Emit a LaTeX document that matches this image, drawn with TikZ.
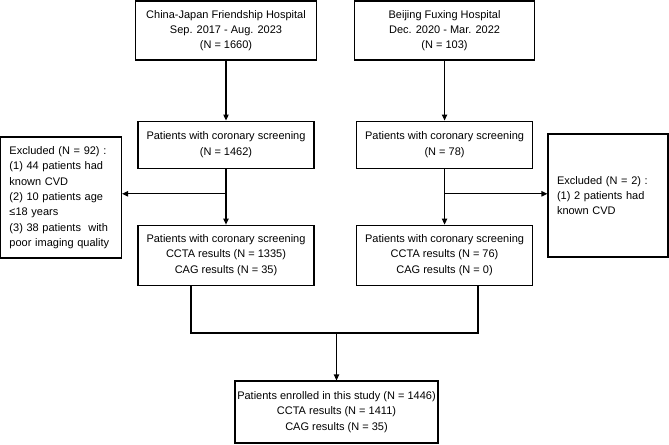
\documentclass[tikz,border=0pt]{standalone}
\usepackage{fontspec}
\setmainfont{Liberation Sans}
\usepackage{tikz}
\usetikzlibrary{arrows.meta,positioning,calc}

\begin{document}
\begin{tikzpicture}[
    x=0.75pt, y=-0.75pt,
    box/.style={
        draw,
        line width=0.8pt,
        inner sep=0pt,
        minimum width=132pt,
        minimum height=45pt,
        align=center,
        font=\fontsize{8.25}{11.5}\selectfont
    },
    exbox/.style={
        box,
        minimum width=0pt,
        align=left,
        inner xsep=6.75pt,
        text width=76.5pt
    },
    arrow/.style={-{Triangle[length=4.5pt,width=4pt]}, line width=0.8pt},
    line/.style={line width=0.8pt}
]
\useasboundingbox (0,0) rectangle (669,444);

\node[box, minimum width=135.75pt, minimum height=44.25pt] (cjfh) at (226,30.5) {China-Japan Friendship Hospital\\Sep. 2017 - Aug. 2023\\(N = 1660)};
\node[box, minimum width=135pt, minimum height=44.25pt, right=27.75pt of cjfh] (bjfx) {Beijing Fuxing Hospital\\Dec. 2020 - Mar. 2022\\(N = 103)};

\node[box, minimum height=35.25pt, below=45pt of cjfh] (scrA) {Patients with coronary screening\\(N = 1462)};
\node[box, minimum height=35.25pt, below=45pt of bjfx] (scrB) {Patients with coronary screening\\(N = 78)};

\node[box, below=42pt of scrA] (resA) {Patients with coronary screening\\CCTA results (N = 1335)\\CAG results (N = 35)};
\node[box, below=42pt of scrB] (resB) {Patients with coronary screening\\CCTA results (N = 76)\\CAG results (N = 0)};

\node[exbox, minimum height=90.75pt, text width=77.25pt] (exA) at (61,197.5) {Excluded (N = 92) :\\(1) 44 patients had\\known CVD\\(2) 10 patients age\\≤18 years\\(3) 38 patients\ \ with\\poor imaging quality};
\node[exbox, minimum height=92.25pt] (exB) at (608,195.5) {Excluded (N = 2) :\\(1) 2 patients had\\known CVD};

\node[box, minimum width=152.25pt, minimum height=46.5pt] (enrol) at (336.5,412) {Patients enrolled in this study (N = 1446)\\CCTA results (N = 1411)\\CAG results (N = 35)};

\coordinate (splitA) at ($(scrA.south)!0.45!(resA.north)$);
\coordinate (splitB) at ($(scrB.south)!0.45!(resB.north)$);
\coordinate (mergeA) at (191,333);
\coordinate (mergeB) at (478,333);

\draw[arrow] (cjfh) -- (scrA);
\draw[arrow] (bjfx) -- (scrB);
\draw[arrow] (scrA) -- (resA);
\draw[arrow] (scrB) -- (resB);
\draw[arrow] (splitA) -- (splitA -| exA.east);
\draw[arrow] (splitB) -- (splitB -| exB.west);

\draw[line] (resA.south -| mergeA) -- (mergeA) -- (mergeB) -- (resB.south -| mergeB);
\draw[arrow] (mergeA -| enrol.north) -- (enrol);
\end{tikzpicture}
\end{document}
